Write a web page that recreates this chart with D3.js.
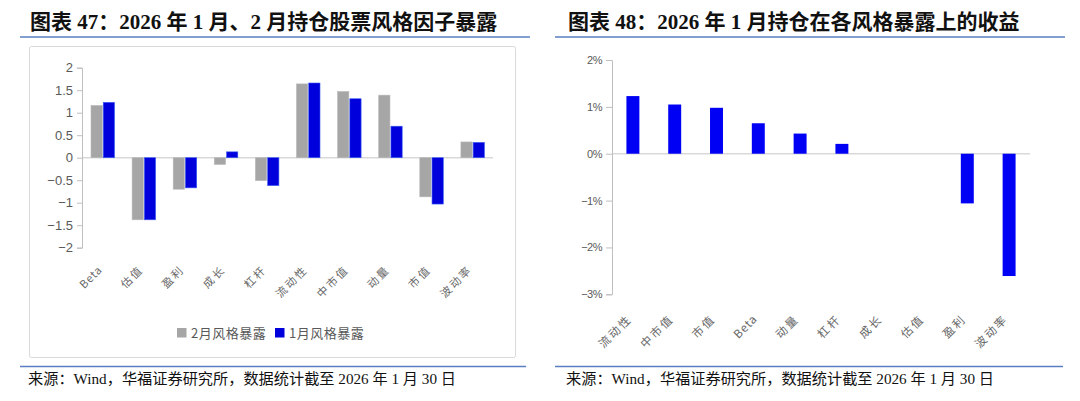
<!DOCTYPE html>
<html><head><meta charset="utf-8">
<script src="https://cdn.jsdelivr.net/npm/d3@7/dist/d3.min.js"></script>
<style>
html,body{margin:0;padding:0;background:#fff;}
svg{display:block;}
</style></head>
<body>
<svg id="c" width="1080" height="401"></svg>
<script>
// ---- data ----
const leftCategories = ["Beta","估值","盈利","成长","杠杆","流动性","中市值","动量","市值","波动率"];
const febExposure = [1.16,-1.38,-0.70,-0.15,-0.51,1.64,1.47,1.39,-0.87,0.35];
const janExposure = [1.23,-1.38,-0.67,0.13,-0.62,1.66,1.31,0.70,-1.03,0.34];
const leftTicks = [2,1.5,1,0.5,0,-0.5,-1,-1.5,-2];
const seriesNames = ["2月风格暴露","1月风格暴露"];

const rightCategories = ["流动性","中市值","市值","Beta","动量","杠杆","成长","估值","盈利","波动率"];
const janReturn = [1.23,1.05,0.98,0.65,0.43,0.21,0,0,-1.06,-2.61];
const rightTicks = [2,1,0,-1,-2,-3];

const titleLeft = "图表 47：2026 年 1 月、2 月持仓股票风格因子暴露";
const titleRight = "图表 48：2026 年 1 月持仓在各风格暴露上的收益";
const sourceText = "来源：Wind，华福证券研究所，数据统计截至 2026 年 1 月 30 日";

const GRAY = "#a6a6a6", BLUE = "#0000dc", BLUE2 = "#0000f5";
const axisColor = "#bfbfbf", tickText = "#595959", catText = "#666666";
const titleFont = "'Liberation Serif','Noto Sans CJK SC',serif";
const cjk = "'Noto Sans CJK SC','Liberation Sans',sans-serif";

const svg = d3.select("#c");
svg.append("rect").attr("width",1080).attr("height",401).attr("fill","#fff");

function fmt(v, suffix){ const s = (Math.abs(v)+"") + (suffix||""); return v<0 ? "\u2212"+s : s; }
const isLatin = s => /^[A-Za-z]+$/.test(s);

// ---- headers & footers ----
function header(x, x1, x2, text){
  svg.append("text").attr("x",x).attr("y",29).text(text)
    .attr("font-family",titleFont).attr("font-weight","bold").attr("font-size",21).attr("fill","#111");
  svg.append("line").attr("x1",x1).attr("x2",x2).attr("y1",37).attr("y2",37)
    .attr("stroke","#5a7fc0").attr("stroke-width",1.5);
}
function footer(x, x1, x2){
  svg.append("line").attr("x1",x1).attr("x2",x2).attr("y1",366.5).attr("y2",366.5)
    .attr("stroke","#5a7fc0").attr("stroke-width",1.5);
  svg.append("text").attr("x",x).attr("y",384).text(sourceText)
    .attr("font-family","'Liberation Serif','Noto Sans CJK SC',serif").attr("font-size",15.2).attr("fill","#111");
}
header(30, 20, 530, titleLeft);
header(568, 555, 1065, titleRight);
footer(28, 20, 526);
footer(566, 555, 1063);

// ---- left chart ----
svg.append("rect").attr("x",29.5).attr("y",46.5).attr("width",486).attr("height",311)
  .attr("fill","none").attr("stroke","#d9d9d9").attr("stroke-width",1).attr("rx",2);

const yL = d3.scaleLinear().domain([-2,2]).range([247.7,67.7]);
const xL = d3.scaleBand().domain(leftCategories).range([82,493]);
const xSub = d3.scaleBand().domain(seriesNames).range([9,32.5]).paddingInner(0.08);
const gL = svg.append("g");

gL.append("line").attr("x1",82).attr("x2",493).attr("y1",yL(0)).attr("y2",yL(0)).attr("stroke","#d9d9d9").attr("stroke-width",1.5);

const rowsL = leftCategories.map((c,i)=>({c, vals:[febExposure[i], janExposure[i]]}));
const grp = gL.selectAll("g.cat").data(rowsL).join("g").attr("transform",d=>`translate(${xL(d.c)},0)`);
grp.selectAll("rect").data(d=>d.vals.map((v,j)=>({v, s:seriesNames[j], j}))).join("rect")
  .attr("x",d=>xSub(d.s)).attr("width",xSub.bandwidth())
  .attr("y",d=>yL(Math.max(0,d.v))).attr("height",d=>Math.abs(yL(d.v)-yL(0)))
  .attr("fill",d=>d.j===0?GRAY:BLUE).attr("stroke",d=>d.j===0?"#b8b8b8":"#3a5cf0").attr("stroke-width",0.6);

const axL = gL.append("g").attr("transform","translate(82,0)")
  .call(d3.axisLeft(yL).tickValues(leftTicks).tickSize(5).tickPadding(4).tickFormat(d=>fmt(d)));
axL.select(".domain").attr("stroke",axisColor);
axL.selectAll(".tick line").attr("stroke",axisColor);
axL.selectAll(".tick text").attr("fill",tickText).attr("font-family","'Liberation Sans',Arial,sans-serif").attr("font-size",13);

gL.selectAll("text.xl").data(leftCategories).join("text").attr("class","xl")
  .attr("transform",d=>`translate(${xL(d)+xL.bandwidth()/2-5},${265}) rotate(-45)`)
  .attr("text-anchor","end").attr("dy","0.7em").text(d=>d)
  .attr("font-family",cjk).attr("font-size",11).attr("fill",catText)
  .attr("letter-spacing",d=>isLatin(d)?0.8:2.2);

// legend
const lg = svg.append("g").attr("transform","translate(177,328)");
seriesNames.forEach((n,i)=>{
  const ox = i===0?0:98;
  lg.append("rect").attr("x",ox).attr("y",0).attr("width",9.5).attr("height",9.5).attr("fill",i===0?GRAY:BLUE);
  lg.append("text").attr("x",ox+14).attr("y",9.5).text(n).attr("font-family",cjk).attr("font-size",13).attr("fill",tickText).attr("letter-spacing",0.5);
});

// ---- right chart ----
const yR = d3.scaleLinear().domain([-3,2]).range([294.3,60]);
const xR = d3.scaleBand().domain(rightCategories).range([612,1030]).paddingInner(0.69).paddingOuter(0.345);
const gR = svg.append("g");
gR.append("line").attr("x1",612).attr("x2",1030).attr("y1",yR(0)).attr("y2",yR(0)).attr("stroke","#d9d9d9").attr("stroke-width",1.5);
gR.selectAll("rect").data(rightCategories.map((c,i)=>({c,v:janReturn[i]}))).join("rect")
  .attr("x",d=>xR(d.c)).attr("width",xR.bandwidth())
  .attr("y",d=>yR(Math.max(0,d.v))).attr("height",d=>Math.abs(yR(d.v)-yR(0)))
  .attr("fill",BLUE2);
const axR = gR.append("g").attr("transform","translate(612,0)")
  .call(d3.axisLeft(yR).tickValues(rightTicks).tickSize(6).tickPadding(4).tickFormat(d=>fmt(d,"%")));
axR.select(".domain").attr("stroke",axisColor);
axR.selectAll(".tick line").attr("stroke",axisColor);
axR.selectAll(".tick text").attr("fill",tickText).attr("font-family","'Liberation Sans',Arial,sans-serif").attr("font-size",11).attr("letter-spacing",-0.5);
gR.selectAll("text.xr").data(rightCategories).join("text").attr("class","xr")
  .attr("transform",d=>`translate(${xR(d)+xR.bandwidth()/2-6},${314}) rotate(-45)`)
  .attr("text-anchor","end").attr("dy","0.7em").text(d=>d)
  .attr("font-family",cjk).attr("font-size",11.5).attr("fill",catText)
  .attr("letter-spacing",d=>isLatin(d)?0.8:2.2);
</script>
</body></html>
